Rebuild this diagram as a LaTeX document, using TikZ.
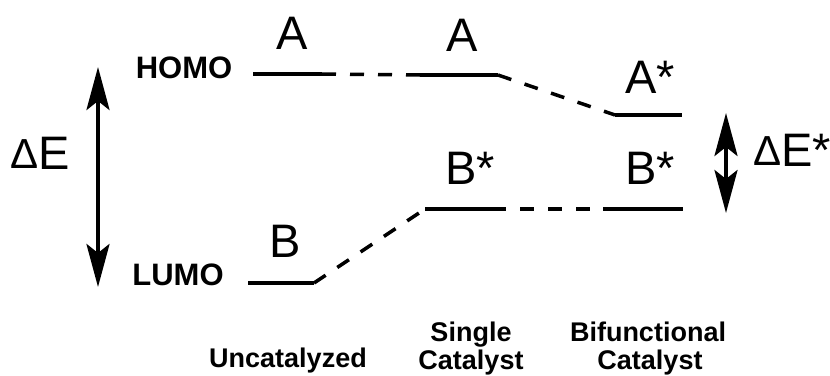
\documentclass[tikz,border=0pt]{standalone}
\usepackage{fontspec}
\setmainfont{Liberation Sans}
\usetikzlibrary{arrows.meta}
\tikzset{
  level/.style={line width=4pt},
  link/.style={line width=3.5pt, dash pattern=on 14pt off 14pt},
  gaparrow/.style={line width=4pt,
    {Stealth[length=43pt,width=23pt,inset=9pt]}-{Stealth[length=43pt,width=23pt,inset=9pt]}},
  orb/.style={font=\fontsize{31}{31}\selectfont\bfseries, anchor=base, inner sep=0pt},
  big/.style={font=\fontsize{47}{47}\selectfont, anchor=base, inner sep=0pt},
  cat/.style={font=\fontsize{27}{27}\selectfont\bfseries, anchor=base, inner sep=0pt}
}
\newcommand{\dlt}{\raisebox{1pt}{\fontsize{42}{42}\selectfont Δ}}
\begin{document}
\begin{tikzpicture}[x=1pt,y=-1pt]
\useasboundingbox (0,0) rectangle (830,375);

% level end points
\coordinate (h1a) at (253,74);  \coordinate (h1b) at (322,74);
\coordinate (h2a) at (420,75);  \coordinate (h2b) at (498,75);
\coordinate (h3a) at (615,115); \coordinate (h3b) at (682,115);
\coordinate (l1a) at (248,283); \coordinate (l1b) at (314,283);
\coordinate (l2a) at (425,209); \coordinate (l2b) at (492,209);
\coordinate (l3a) at (603,209); \coordinate (l3b) at (683,209);

% levels
\draw[level] (h1a) -- (h1b);
\draw[level] (h2a) -- (h2b);
\draw[level] (h3a) -- (h3b);
\draw[level] (l1a) -- (l1b);
\draw[level] (l2a) -- (l2b);
\draw[level] (l3a) -- (l3b);

% dashed correlation lines
\draw[link] (h1b) -- (h2a);
\draw[link] (h2b) -- (h3a);
\draw[link] (l1b) -- (l2a);
\draw[link] (l2b) -- (l3a);

% energy gap arrows
\coordinate (g1t) at (98,67);  \coordinate (g1b) at (98,287);
\coordinate (g2t) at (726,113); \coordinate (g2b) at (726,213);
\draw[gaparrow] (g1b) -- (g1t);
\draw[gaparrow] (g2b) -- (g2t);

% labels
\node[orb] (homo) at (184,78) {HOMO};
\node[orb] (lumo) at (178,285) {LUMO};
\node[big] (a1) at (292,49) {A};
\node[big] (a2) at (462,51) {A};
\node[big] (a3) at (650,93) {A*};
\node[big] (b1) at (285,257) {B};
\node[big] (b2) at (470,184) {B*};
\node[big] (b3) at (650,184) {B*};
\node[big, anchor=base west] (de) at (10,169) {\dlt E};
\node[big, anchor=base west] (des) at (753,166) {\dlt E*};

\node[cat] (unc) at (288,367) {Uncatalyzed};
\node[cat] (sgl1) at (471,341) {Single};
\node[cat] (sgl2) at (471,369) {Catalyst};
\node[cat] (bif1) at (648,341) {Bifunctional};
\node[cat] (bif2) at (650,369) {Catalyst};
\end{tikzpicture}
\end{document}
